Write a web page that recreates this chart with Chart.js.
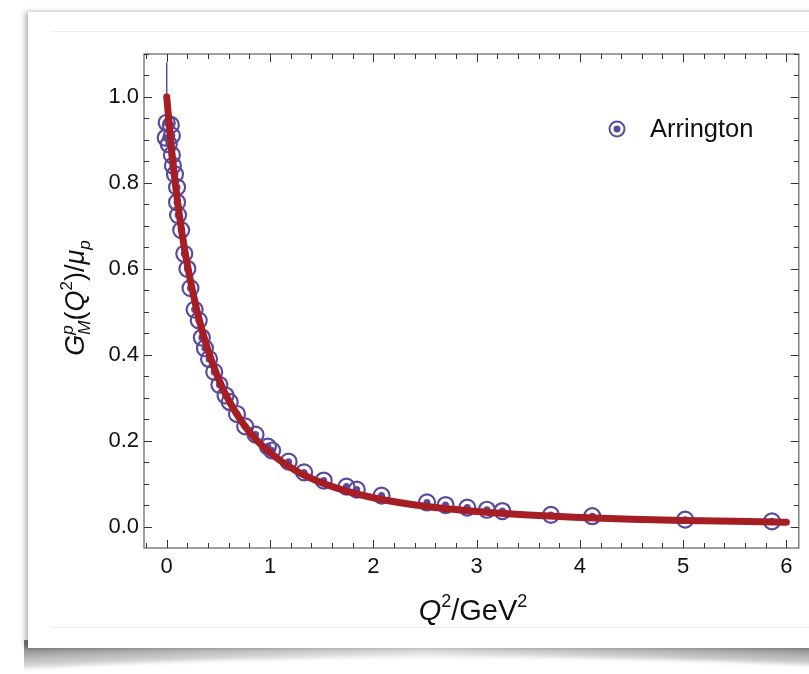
<!DOCTYPE html>
<html>
<head>
<meta charset="utf-8">
<script src="https://cdn.jsdelivr.net/npm/chart.js@4.4.1/dist/chart.umd.min.js"></script>
<style>
  html, body { margin: 0; padding: 0; background: #fff; overflow: hidden; }
  #wrap { position: relative; width: 809px; height: 674px; }
  #curl { position: absolute; left: 24px; top: 640px; width: 800px; height: 32px;
    background: linear-gradient(to bottom, rgba(255,255,255,0) 10%, rgba(255,255,255,0.9) 100%),
                linear-gradient(to right, #7a7a7a, #a8a8a8 22%, #d8d8d8 50%, #a8a8a8 78%, #7a7a7a); }
  #curlcut { position: absolute; left: -250px; top: 657px; width: 1400px; height: 120px; background: #fff;
    border-radius: 50%; filter: blur(2px); }
  #card { position: absolute; left: 28px; top: 12px; width: 800px; height: 636px; background: #fff;
    box-shadow: -3px 0 5px rgba(0,0,0,0.28), 0 -1px 3px rgba(0,0,0,0.06); }
  .faint { position: absolute; left: 50px; width: 770px; height: 1px; background: #eeeeee; }
  canvas { position: absolute; left: 0; top: 0; }
</style>
</head>
<body>
<div id="wrap">
  <div id="curl"></div>
  <div id="curlcut"></div>
  <div id="card"></div>
  <div class="faint" style="top:31px"></div>
  <div class="faint" style="top:627px"></div>
  <canvas id="c" width="809" height="674"></canvas>
</div>
<script>
// Arrington data, Q^2 in GeV^2 and G_M^p/mu_p
const arringtonQ2 = [0.00, 0.04, -0.01, 0.05, 0.02, 0.05, 0.06, 0.08, 0.10, 0.10, 0.11, 0.14, 0.17, 0.20, 0.23, 0.27, 0.31, 0.34, 0.37, 0.41, 0.46, 0.51, 0.57, 0.61, 0.68, 0.76, 0.86, 0.98, 1.02, 1.18, 1.33, 1.52, 1.74, 1.84, 2.08, 2.52, 2.70, 2.91, 3.10, 3.25, 3.72, 4.12, 5.02, 5.86];
const arringtonG = [0.940, 0.935, 0.905, 0.910, 0.890, 0.865, 0.840, 0.820, 0.790, 0.755, 0.725, 0.690, 0.635, 0.600, 0.555, 0.505, 0.480, 0.440, 0.415, 0.390, 0.360, 0.330, 0.305, 0.290, 0.262, 0.233, 0.214, 0.186, 0.177, 0.151, 0.126, 0.107, 0.093, 0.086, 0.072, 0.056, 0.050, 0.044, 0.039, 0.036, 0.027, 0.024, 0.016, 0.012];

// fit curve
const curveQ2 = [0, 0.05, 0.1, 0.15, 0.2, 0.3, 0.4, 0.5, 0.6, 0.8, 1.0, 1.25, 1.5, 1.75, 2.0, 2.5, 3.0, 3.5, 4.0, 4.5, 5.0, 5.5, 6.0];
const curveG = [1.0, 0.870, 0.766, 0.680, 0.609, 0.495, 0.410, 0.345, 0.294, 0.220, 0.172, 0.130, 0.102, 0.082, 0.067, 0.047, 0.035, 0.027, 0.021, 0.017, 0.014, 0.012, 0.010];

// small vertical segment at Q^2 = 0
const barQ2 = [0, 0];
const barG = [0.99, 1.08];

const xTicks = [0, 1, 2, 3, 4, 5, 6];
const yTicks = [0, 0.2, 0.4, 0.6, 0.8, 1.0];

const purple = '#5b4b9e';
const red = '#a51e24';
const font = '"Liberation Sans", Arial, sans-serif';

const pts = (xs, ys) => xs.map((x, i) => ({ x: x, y: ys[i] }));

// draws frame, inward ticks, axis titles and legend
const decor = {
  id: 'decor',
  afterDraw(chart) {
    const ctx = chart.ctx, a = chart.chartArea;
    const xs = chart.scales.x, ys = chart.scales.y;
    ctx.save();
    ctx.strokeStyle = '#6e6e6e';
    ctx.lineWidth = 1.3;
    ctx.strokeRect(a.left, a.top, a.right - a.left, a.bottom - a.top);

    ctx.strokeStyle = '#333';
    ctx.lineWidth = 1;
    for (let i = -1; i <= 30; i++) {
      const px = Math.round(xs.getPixelForValue(i * 0.2)) + 0.5;
      if (px <= a.left || px >= a.right) continue;
      const len = i % 5 === 0 ? 8 : 5;
      ctx.beginPath();
      ctx.moveTo(px, a.bottom); ctx.lineTo(px, a.bottom - len);
      ctx.moveTo(px, a.top); ctx.lineTo(px, a.top + len);
      ctx.stroke();
    }
    for (let j = -1; j <= 22; j++) {
      const py = Math.round(ys.getPixelForValue(j * 0.05)) + 0.5;
      if (py <= a.top || py >= a.bottom) continue;
      const len = j % 4 === 0 ? 8 : 5;
      ctx.beginPath();
      ctx.moveTo(a.left, py); ctx.lineTo(a.left + len, py);
      ctx.moveTo(a.right, py); ctx.lineTo(a.right - len, py);
      ctx.stroke();
    }

    // text runs: [text, italic, size, shift, noAdvance]
    const runs = (list, x, y) => {
      let cx = x;
      for (const r of list) {
        ctx.font = (r[1] ? 'italic ' : '') + r[2] + 'px ' + font;
        ctx.fillText(r[0], cx, y - r[3]);
        if (!r[4]) cx += ctx.measureText(r[0]).width;
      }
    };
    const width = (list) => {
      let w = 0;
      for (const r of list) {
        ctx.font = (r[1] ? 'italic ' : '') + r[2] + 'px ' + font;
        if (!r[4]) w += ctx.measureText(r[0]).width;
      }
      return w;
    };
    ctx.fillStyle = '#111';
    ctx.textBaseline = 'alphabetic';
    ctx.textAlign = 'left';

    const xTitle = [['Q', true, 29, 0], ['2', false, 18, 13], ['/GeV', false, 29, 0], ['2', false, 18, 13]];
    const xw = width(xTitle);
    runs(xTitle, 473 - xw / 2, 620);

    const yTitle = [['G', true, 27, 0], ['p', true, 17, 11, true], ['M', true, 17, -6], ['(', false, 27, 0], ['Q', true, 27, 0],
      ['2', false, 17, 12], [')/', false, 27, 0], ['\u03bc', true, 27, 0], ['p', true, 17, -6]];
    const yw = width(yTitle);
    ctx.save();
    ctx.translate(84, 298);
    ctx.rotate(-Math.PI / 2);
    runs(yTitle, -yw / 2, 0);
    ctx.restore();

    // legend
    const lx = 617, ly = 129;
    ctx.strokeStyle = purple; ctx.lineWidth = 2;
    ctx.beginPath(); ctx.arc(lx, ly, 7.5, 0, Math.PI * 2); ctx.stroke();
    ctx.fillStyle = purple;
    ctx.beginPath(); ctx.arc(lx, ly, 3.5, 0, Math.PI * 2); ctx.fill();
    ctx.fillStyle = '#111';
    ctx.font = '25.5px ' + font;
    ctx.textBaseline = 'middle';
    ctx.fillText('Arrington', 650, ly + 1);
    ctx.restore();
  }
};

new Chart(document.getElementById('c'), {
  type: 'scatter',
  data: {
    datasets: [
      { label: 'fit', data: pts(curveQ2, curveG), showLine: true, borderColor: red, borderWidth: 7,
        pointRadius: 0, cubicInterpolationMode: 'monotone', borderCapStyle: 'round', order: 0 },
      { label: 'bar', data: pts(barQ2, barG), showLine: true, borderColor: purple, borderWidth: 1.5, pointRadius: 0, order: 3 },
      { label: 'Arrington', data: pts(arringtonQ2, arringtonG), pointRadius: 8, pointBorderWidth: 2.2,
        pointBorderColor: purple, pointBackgroundColor: 'rgba(255,255,255,0)', order: 1 },
      { label: 'dots', data: pts(arringtonQ2, arringtonG), pointRadius: 3.5, pointBorderWidth: 0,
        pointBackgroundColor: purple, order: 2 }
    ]
  },
  options: {
    responsive: false,
    animation: false,
    layout: { padding: { left: 0, top: 54, right: 7, bottom: 0 } },
    plugins: { legend: { display: false }, tooltip: { enabled: false } },
    scales: {
      x: {
        type: 'linear', min: -0.22, max: 6.12,
        afterFit: s => { s.height = 126; },
        afterBuildTicks: s => { s.ticks = xTicks.map(v => ({ value: v })); },
        ticks: { padding: 6, color: '#111', font: { family: font, size: 22 }, callback: v => String(v) },
        grid: { display: false, drawTicks: false },
        border: { display: false }
      },
      y: {
        type: 'linear', min: -0.05, max: 1.1,
        afterFit: s => { s.width = 144; },
        afterBuildTicks: s => { s.ticks = yTicks.map(v => ({ value: v })); },
        ticks: { padding: 5, color: '#111', font: { family: font, size: 22 }, callback: v => v.toFixed(1) },
        grid: { display: false, drawTicks: false },
        border: { display: false }
      }
    }
  },
  plugins: [decor]
});
</script>
</body>
</html>
